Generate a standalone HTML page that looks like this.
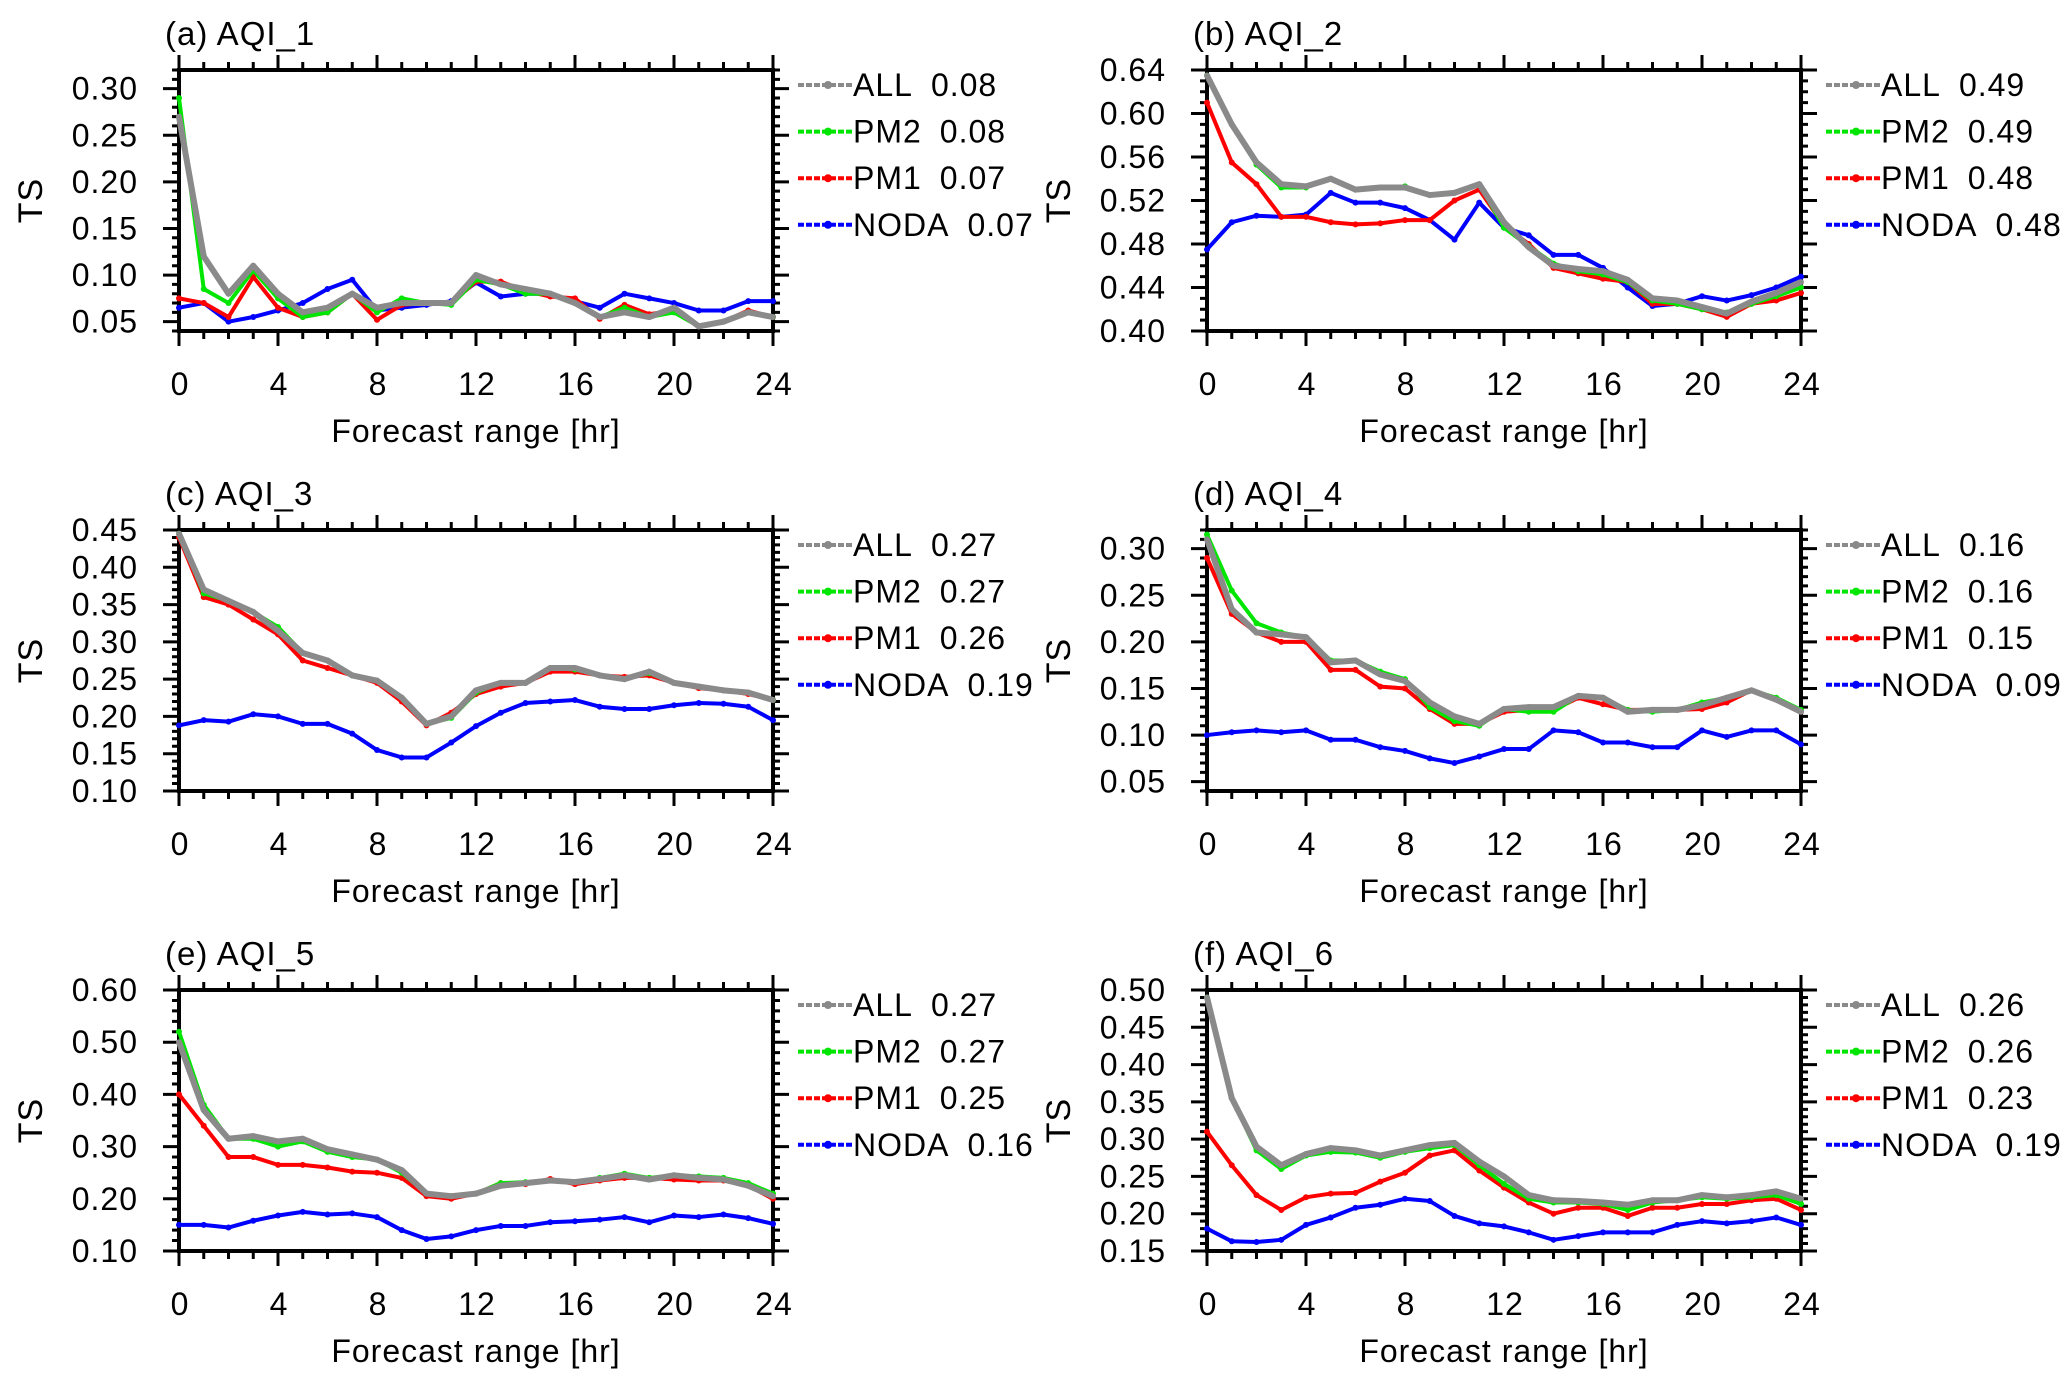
<!DOCTYPE html>
<html><head><meta charset="utf-8"><style>
html,body{margin:0;padding:0;background:#fff;}
svg{display:block;font-family:"Liberation Sans",sans-serif;}
svg text{letter-spacing:1px;}
</style></head><body>
<svg id="fig" width="2067" height="1389" viewBox="0 0 2067 1389" xmlns="http://www.w3.org/2000/svg"></svg>
<script>
const hours=[0,1,2,3,4,5,6,7,8,9,10,11,12,13,14,15,16,17,18,19,20,21,22,23,24];
const seriesNames=["ALL","PM2","PM1","NODA"];
const titles=["(a) AQI_1","(b) AQI_2","(c) AQI_3","(d) AQI_4","(e) AQI_5","(f) AQI_6"];
const legendValues=[["0.08","0.08","0.07","0.07"],["0.49","0.49","0.48","0.48"],["0.27","0.27","0.26","0.19"],["0.16","0.16","0.15","0.09"],["0.27","0.27","0.25","0.16"],["0.26","0.26","0.23","0.19"]];
const yMin=[0.04,0.40,0.10,0.04,0.10,0.15];
const yMax=[0.32,0.64,0.45,0.32,0.60,0.50];
const yMajor=[0.05,0.04,0.05,0.05,0.10,0.05];
const yMinor=[0.01,0.01,0.01,0.01,0.02,0.01];
const allA=[0.27,0.12,0.08,0.11,0.08,0.06,0.065,0.08,0.065,0.07,0.07,0.07,0.10,0.09,0.085,0.08,0.07,0.055,0.06,0.055,0.065,0.045,0.05,0.06,0.055];
const pm2A=[0.29,0.085,0.07,0.105,0.075,0.055,0.06,0.08,0.06,0.075,0.07,0.068,0.095,0.09,0.08,0.08,0.07,0.055,0.065,0.055,0.06,0.045,0.05,0.06,0.055];
const pm1A=[0.075,0.07,0.055,0.098,0.065,0.055,0.06,0.08,0.052,0.068,0.07,0.07,0.093,0.093,0.083,0.077,0.075,0.053,0.068,0.058,0.062,0.045,0.05,0.062,0.055];
const nodaA=[0.065,0.07,0.05,0.055,0.062,0.07,0.085,0.095,0.062,0.065,0.068,0.072,0.092,0.077,0.08,0.08,0.072,0.065,0.08,0.075,0.07,0.062,0.062,0.072,0.072];
const allB=[0.635,0.59,0.555,0.535,0.533,0.54,0.53,0.532,0.532,0.525,0.527,0.535,0.50,0.477,0.46,0.457,0.455,0.447,0.43,0.428,0.422,0.416,0.427,0.435,0.445];
const pm2B=[0.635,0.59,0.553,0.532,0.532,0.54,0.53,0.532,0.533,0.525,0.527,0.535,0.495,0.478,0.462,0.455,0.452,0.445,0.428,0.425,0.42,0.417,0.425,0.432,0.44];
const pm1B=[0.61,0.555,0.535,0.505,0.505,0.5,0.498,0.499,0.502,0.502,0.52,0.53,0.497,0.48,0.458,0.453,0.448,0.445,0.425,0.425,0.42,0.413,0.425,0.428,0.435];
const nodaB=[0.475,0.5,0.506,0.505,0.507,0.527,0.518,0.518,0.513,0.502,0.484,0.518,0.495,0.488,0.47,0.47,0.458,0.44,0.423,0.425,0.432,0.428,0.433,0.44,0.45];
const allC=[0.445,0.37,0.355,0.34,0.315,0.285,0.275,0.255,0.248,0.225,0.19,0.20,0.235,0.245,0.245,0.265,0.265,0.255,0.25,0.26,0.245,0.24,0.235,0.232,0.222];
const pm2C=[0.445,0.365,0.355,0.34,0.32,0.285,0.275,0.255,0.248,0.225,0.19,0.198,0.232,0.245,0.245,0.265,0.263,0.255,0.25,0.258,0.245,0.24,0.235,0.232,0.222];
const pm1C=[0.44,0.36,0.35,0.33,0.31,0.275,0.265,0.255,0.245,0.22,0.188,0.205,0.23,0.24,0.245,0.26,0.26,0.255,0.253,0.255,0.245,0.238,0.235,0.23,0.222];
const nodaC=[0.188,0.195,0.193,0.203,0.2,0.19,0.19,0.177,0.155,0.145,0.145,0.165,0.187,0.205,0.218,0.22,0.222,0.213,0.21,0.21,0.215,0.218,0.217,0.213,0.195];
const allD=[0.31,0.235,0.21,0.208,0.205,0.178,0.18,0.165,0.158,0.135,0.12,0.112,0.128,0.13,0.13,0.142,0.14,0.125,0.127,0.127,0.132,0.14,0.148,0.138,0.125];
const pm2D=[0.315,0.255,0.22,0.21,0.205,0.18,0.18,0.168,0.16,0.13,0.115,0.11,0.128,0.125,0.125,0.142,0.14,0.127,0.125,0.127,0.135,0.14,0.148,0.14,0.127];
const pm1D=[0.29,0.23,0.21,0.2,0.2,0.17,0.17,0.152,0.15,0.128,0.112,0.112,0.125,0.127,0.127,0.14,0.133,0.127,0.127,0.127,0.128,0.135,0.148,0.138,0.125];
const nodaD=[0.1,0.103,0.105,0.103,0.105,0.095,0.095,0.087,0.083,0.075,0.07,0.077,0.085,0.085,0.105,0.103,0.092,0.092,0.087,0.087,0.105,0.098,0.105,0.105,0.09];
const allE=[0.50,0.37,0.315,0.32,0.31,0.315,0.295,0.285,0.275,0.255,0.21,0.205,0.21,0.225,0.23,0.235,0.232,0.238,0.245,0.237,0.245,0.24,0.237,0.225,0.205];
const pm2E=[0.52,0.38,0.315,0.315,0.3,0.31,0.29,0.28,0.275,0.25,0.21,0.205,0.21,0.23,0.232,0.235,0.232,0.24,0.248,0.24,0.245,0.243,0.24,0.23,0.21];
const pm1E=[0.40,0.34,0.28,0.28,0.265,0.265,0.26,0.252,0.25,0.24,0.205,0.2,0.21,0.23,0.228,0.238,0.228,0.235,0.24,0.24,0.237,0.235,0.235,0.225,0.2];
const nodaE=[0.15,0.15,0.145,0.158,0.168,0.175,0.17,0.172,0.165,0.14,0.123,0.128,0.14,0.148,0.148,0.155,0.157,0.16,0.165,0.155,0.168,0.165,0.17,0.163,0.152];
const allF=[0.49,0.355,0.29,0.265,0.28,0.288,0.285,0.278,0.285,0.292,0.295,0.27,0.25,0.225,0.218,0.217,0.215,0.212,0.218,0.218,0.225,0.222,0.225,0.23,0.22];
const pm2F=[0.49,0.355,0.285,0.26,0.278,0.283,0.282,0.275,0.283,0.288,0.292,0.265,0.24,0.22,0.215,0.215,0.213,0.205,0.215,0.218,0.222,0.22,0.222,0.225,0.213];
const pm1F=[0.31,0.265,0.225,0.205,0.222,0.227,0.228,0.243,0.255,0.278,0.285,0.258,0.235,0.215,0.2,0.208,0.208,0.197,0.208,0.208,0.213,0.213,0.218,0.22,0.205];
const nodaF=[0.18,0.163,0.162,0.165,0.185,0.195,0.208,0.212,0.22,0.217,0.197,0.187,0.183,0.175,0.165,0.17,0.175,0.175,0.175,0.185,0.19,0.187,0.19,0.195,0.185];
const panelData=[[allA,pm2A,pm1A,nodaA],[allB,pm2B,pm1B,nodaB],[allC,pm2C,pm1C,nodaC],[allD,pm2D,pm1D,nodaD],[allE,pm2E,pm1E,nodaE],[allF,pm2F,pm1F,nodaF]];
const xTickLabels=["0","4","8","12","16","20","24"];

const NS="http://www.w3.org/2000/svg";
const svg=document.getElementById('fig');
const colors=["#8a8a8a","#00e600","#ff0000","#0000ff"];
const widths=[6,4,4,4];
const FS=32;
function mk(tag,attrs,parent){const e=document.createElementNS(NS,tag);for(const k in attrs)e.setAttribute(k,attrs[k]);(parent||svg).appendChild(e);return e;}
const PW=594, PH=261;
for(let p=0;p<6;p++){
  const col=p%2,row=Math.floor(p/2);
  const L=col===0?179:1207, T=70+row*460, R=L+PW, B=T+PH;
  const g=mk('g',{});
  
  
  const xs=h=>L+h/24*PW;
  const ys=v=>B-(v-yMin[p])/(yMax[p]-yMin[p])*PH;
  const t=mk('text',{x:L-14,y:T-25,'font-size':FS+1,fill:'#000'},g);t.textContent=titles[p];
  
  let tk='';
  for(let h=0;h<=24;h++){const x=xs(h),len=h%4===0?15:8;tk+=`M${x},${T}v${-len}M${x},${B}v${len}`;}
  const n=Math.round((yMax[p]-yMin[p])/yMinor[p]);
  const yTickVals=[];
  for(let i=0;i<=n;i++){const v=yMin[p]+i*yMinor[p];const r=v/yMajor[p];const maj=Math.abs(r-Math.round(r))<1e-6;const y=ys(v),len=maj?16:7;tk+=`M${L},${y}h${-len}M${R},${y}h${len}`;if(maj)yTickVals.push(v);}
  const ticks=mk('path',{d:tk,stroke:'#000','stroke-width':3,fill:'none'},g);
  
  const frame=mk('rect',{x:L,y:T,width:PW,height:PH,fill:'none',stroke:'#000','stroke-width':4},g);
  
  for(const v of yTickVals){const tl=mk('text',{x:L-41,y:ys(v)+11,'font-size':FS,'text-anchor':'end'},g);tl.textContent=v.toFixed(2);
    }
  xTickLabels.forEach(s=>{const tl=mk('text',{x:xs(+s)+1,y:B+64,'font-size':FS,'text-anchor':'middle'},g);tl.textContent=s;
    });
  const xt=mk('text',{x:(L+R)/2,y:B+111,'font-size':FS,'text-anchor':'middle'},g);xt.textContent='Forecast range [hr]';
  
  const yx=L-149,yy=(T+B)/2;
  const yt=mk('text',{x:yx,y:yy,'font-size':FS+2,'text-anchor':'middle',transform:`rotate(-90 ${yx} ${yy})`,dy:12},g);yt.textContent='TS';
  
  for(let s=3;s>=0;s--){
    const d=panelData[p][s].map((v,i)=>(i?'L':'M')+xs(hours[i])+','+ys(v)).join('');
    const ln=mk('path',{d:d,stroke:colors[s],'stroke-width':widths[s],fill:'none','stroke-linejoin':'round'},g);
    
    panelData[p][s].forEach((v,i)=>{const c=mk('circle',{cx:xs(hours[i]),cy:ys(v),r:3,fill:colors[s]},g);
      });
  }
  const lx=R+25;
  for(let s=0;s<4;s++){
    const ly=T+15+s*46.6;
    const lg=mk('g',{},g);
    
    mk('line',{x1:lx,y1:ly,x2:lx+55,y2:ly,stroke:colors[s],'stroke-width':4,'stroke-dasharray':'6 2'},lg);
    mk('circle',{cx:lx+30,cy:ly,r:4,fill:colors[s]},lg);
    const lt=mk('text',{x:lx+55,y:ly+11,'font-size':FS},lg);lt.textContent=seriesNames[s];
    const tv=mk('tspan',{dx:18},lt);tv.textContent=legendValues[p][s];
  }
}
</script>
</body></html>
